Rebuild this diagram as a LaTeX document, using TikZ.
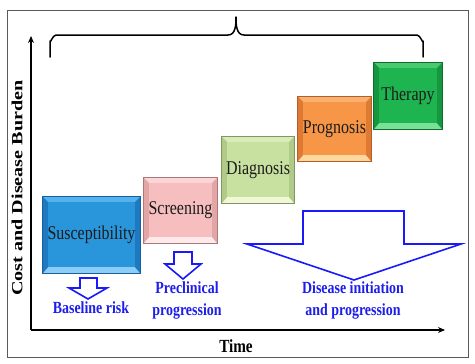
\documentclass[tikz,border=0pt]{standalone}
\usepackage{fontspec}
\setmainfont{Liberation Serif}[FakeStretch=0.82]
\newfontfamily\ylabfont{Liberation Serif}[FakeStretch=1.3]
\usetikzlibrary{arrows.meta,calc}

\definecolor{susbase}{RGB}{41,150,220}
\definecolor{sustop}{RGB}{85,178,236}
\definecolor{susbot}{RGB}{140,205,245}
\definecolor{susside}{RGB}{30,122,192}
\definecolor{susbrd}{RGB}{25,95,160}

\definecolor{scrbase}{RGB}{246,190,190}
\definecolor{scrtop}{RGB}{250,214,214}
\definecolor{scrbot}{RGB}{253,234,234}
\definecolor{scrside}{RGB}{226,166,166}
\definecolor{scrbrd}{RGB}{170,120,120}

\definecolor{diabase}{RGB}{200,225,160}
\definecolor{diatop}{RGB}{216,236,186}
\definecolor{diabot}{RGB}{240,248,215}
\definecolor{diaside}{RGB}{176,202,136}
\definecolor{diabrd}{RGB}{130,150,100}

\definecolor{probase}{RGB}{247,150,70}
\definecolor{protop}{RGB}{250,176,112}
\definecolor{probot}{RGB}{253,215,160}
\definecolor{proside}{RGB}{222,122,50}
\definecolor{probrd}{RGB}{180,95,40}

\definecolor{thebase}{RGB}{30,180,80}
\definecolor{thetop}{RGB}{72,202,112}
\definecolor{thebot}{RGB}{120,225,150}
\definecolor{theside}{RGB}{22,150,62}
\definecolor{thebrd}{RGB}{15,110,45}

\definecolor{arrblue}{RGB}{25,25,250}
\definecolor{labblue}{RGB}{30,30,235}
\definecolor{boxtxt}{RGB}{28,28,28}
\definecolor{framegray}{RGB}{90,90,90}

\newcommand{\bevelbox}[5]{%
 \fill[#2] (#1.north west) -- (#1.north east) -- ([shift={(-5,5)}]#1.north east) -- ([shift={(5,5)}]#1.north west) -- cycle;
 \fill[#3] (#1.south west) -- (#1.south east) -- ([shift={(-5,-6)}]#1.south east) -- ([shift={(5,-6)}]#1.south west) -- cycle;
 \fill[#4] (#1.north west) -- ([shift={(5,5)}]#1.north west) -- ([shift={(5,-6)}]#1.south west) -- (#1.south west) -- cycle;
 \fill[#4] (#1.north east) -- ([shift={(-5,5)}]#1.north east) -- ([shift={(-5,-6)}]#1.south east) -- (#1.south east) -- cycle;
 \draw[#5, line width=0.8pt] (#1.north west) rectangle (#1.south east);
}

\tikzset{
  stagebox/.style={rectangle, inner sep=0pt},
  boxtext/.style={inner sep=0pt, text=boxtxt, font=\fontsize{19.5}{21}\selectfont},
  bluelab/.style={inner sep=0pt, text=labblue, align=center, font=\bfseries\fontsize{17}{22}\selectfont},
  hollowarrow/.style={draw=arrblue, fill=white, line width=1.6pt, line join=miter},
  axisline/.style={black, line width=1.5pt, -{Stealth[length=7pt,width=6pt]}},
}

\begin{document}
\begin{tikzpicture}[x=1pt,y=-1pt]
\useasboundingbox (0,0) rectangle (475,364);
\fill[white] (0,0) rectangle (475,364);

% outer frame
\draw[framegray, line width=0.9pt] (7,10) rectangle (468,357);

% axes
\coordinate (O) at (31,330);
\coordinate (ytop) at (31,36);
\coordinate (xend) at (445,330);
\draw[axisline] (O) -- (ytop);
\draw[axisline] (O) -- (xend);

\node[inner sep=0pt, font=\bfseries\fontsize{18.5}{20}\selectfont] (time) at (236,346) {Time};
\node[inner sep=0pt, rotate=90, font=\ylabfont\bfseries\fontsize{15.5}{18}\selectfont] (ylab) at (17,188) {Cost and Disease Burden};

% brace
\draw[black, line width=1.5pt, line cap=round, line join=round]
  (50,57) -- (50,41) to[out=-90,in=180] (56,35) -- (228,35) to[out=0,in=-90] (236,17)
  to[out=-90,in=180] (244,35) -- (417,35) to[out=0,in=-90] (423,41) -- (423,57);

% boxes
\node[stagebox, fill=susbase, minimum width=97pt, minimum height=76pt] (sus) at (91.5,235) {};
\bevelbox{sus}{sustop}{susbot}{susside}{susbrd}
\node[boxtext] (sust) at (sus) {Susceptibility};

\node[stagebox, fill=scrbase, minimum width=73pt, minimum height=65pt] (scr) at (180.5,210.5) {};
\bevelbox{scr}{scrtop}{scrbot}{scrside}{scrbrd}
\node[boxtext] (scrt) at (scr) {Screening};

\node[stagebox, fill=diabase, minimum width=72pt, minimum height=66pt] (dia) at (258,170) {};
\bevelbox{dia}{diatop}{diabot}{diaside}{diabrd}
\node[boxtext] (diat) at (dia) {Diagnosis};

\node[stagebox, fill=probase, minimum width=73pt, minimum height=64pt] (pro) at (334.5,129) {};
\bevelbox{pro}{protop}{probot}{proside}{probrd}
\node[boxtext] (prot) at (pro) {Prognosis};

\node[stagebox, fill=thebase, minimum width=68pt, minimum height=66pt] (the) at (408,96) {};
\bevelbox{the}{thetop}{thebot}{theside}{thebrd}
\node[boxtext] (thet) at (the) {Therapy};

% hollow arrows
\draw[hollowarrow] (80,278) -- (97,278) -- (97,288) -- (107,288) -- (88,299) -- (69,288) -- (80,288) -- cycle;
\draw[hollowarrow] (174,252) -- (192,252) -- (192,264) -- (201,264) -- (183,279) -- (165,264) -- (174,264) -- cycle;
\draw[hollowarrow] (303,211) -- (404,211) -- (404,244) -- (461,244) -- (354,280) -- (247,244) -- (303,244) -- cycle;

% labels
\node[bluelab] (base) at (91,308) {Baseline risk};
\node[bluelab] (precl) at (187,300) {Preclinical\\progression};
\node[bluelab] (disin) at (353,300) {Disease initiation\\and progression};
\end{tikzpicture}
\end{document}
